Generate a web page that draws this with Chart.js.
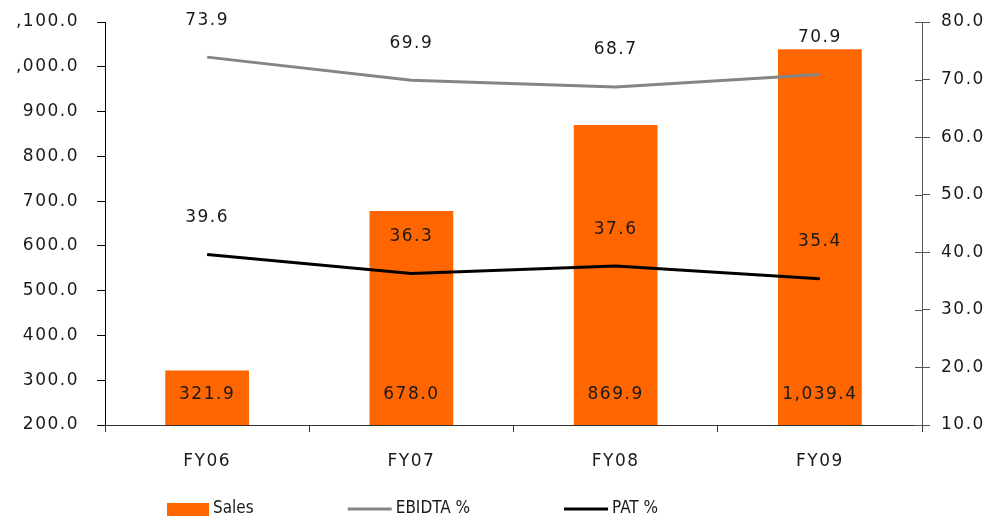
<!DOCTYPE html>
<html>
<head>
<meta charset="utf-8">
<script src="https://cdn.jsdelivr.net/npm/chart.js@4/dist/chart.umd.min.js"></script>
<style>
    body { margin: 0; background: #fff; }
    #wrap { width: 998px; height: 520px; position: relative; }
</style>
</head>
<body>
<div id="wrap"><canvas id="salesChart"></canvas></div>
<script>
const categories = ['FY06', 'FY07', 'FY08', 'FY09'];
const salesValues = [321.9, 678.0, 869.9, 1039.4];
const ebidtaValues = [73.9, 69.9, 68.7, 70.9];
const patValues = [39.6, 36.3, 37.6, 35.4];
const salesTicks = [200, 300, 400, 500, 600, 700, 800, 900, 1000, 1100];
const pctTicks = [10, 20, 30, 40, 50, 60, 70, 80];

const ORANGE = '#ff6600';
const GREY = '#858585';
const TEXT = '#1a1a1a';
const FONT = 'DejaVu Sans';

const fmt = v => v.toLocaleString('en-US', { minimumFractionDigits: 1, maximumFractionDigits: 1 });

// wide-spaced look of the original labels; the source picture is cut off at the left edge
const framePlugin = {
    id: 'frame',
    beforeDraw(chart) {
        const c = chart.ctx;
        c.letterSpacing = '1.5px';
        c.save();
        c.beginPath();
        c.rect(14, 0, chart.width, chart.height);
        c.clip();
    },
    afterDraw(chart) { chart.ctx.restore(); }
};

// value labels: sales near the bar base, percentages above the line points
const valueLabels = {
    id: 'valueLabels',
    afterDatasetsDraw(chart) {
        const ctx = chart.ctx;
        ctx.save();
        ctx.font = '17px "' + FONT + '"';
        ctx.fillStyle = TEXT;
        ctx.textAlign = 'center';
        ctx.textBaseline = 'middle';
        chart.data.datasets.forEach((ds, i) => {
            const meta = chart.getDatasetMeta(i);
            meta.data.forEach((el, j) => {
                const y = ds.type === 'bar' ? chart.chartArea.bottom - 30 : el.y - 37;
                ctx.fillText(fmt(ds.data[j]), el.x, y);
            });
        });
        ctx.restore();
    }
};

// right axis ticks cross the axis line
const crossTicks = {
    id: 'crossTicks',
    afterDraw(chart) {
        const s = chart.scales.y1;
        const ctx = chart.ctx;
        ctx.save();
        ctx.strokeStyle = '#555';
        ctx.lineWidth = 1;
        s.ticks.forEach(t => {
            const y = Math.round(s.getPixelForValue(t.value)) + 0.5;
            ctx.beginPath();
            ctx.moveTo(s.left - 7, y);
            ctx.lineTo(s.left, y);
            ctx.stroke();
        });
        ctx.restore();
    }
};

// legend along the bottom, spaced like the original
const bottomLegend = {
    id: 'bottomLegend',
    afterDraw(chart) {
        const ctx = chart.ctx;
        ctx.save();
        ctx.letterSpacing = '0px';
        ctx.font = '17px "DejaVu Sans Condensed", "' + FONT + '"';
        ctx.fillStyle = TEXT;
        ctx.textBaseline = 'middle';
        const y = 509;
        let x = 167;
        chart.data.datasets.forEach(ds => {
            if (ds.type === 'bar') {
                ctx.fillStyle = ds.backgroundColor;
                ctx.fillRect(x, y - 6, 42, 13);
                x += 42;
            } else {
                ctx.strokeStyle = ds.borderColor;
                ctx.lineWidth = 3;
                ctx.beginPath();
                ctx.moveTo(x, y);
                ctx.lineTo(x + 44, y);
                ctx.stroke();
                x += 44;
            }
            x += 4;
            ctx.fillStyle = TEXT;
            ctx.fillText(ds.label, x, y);
            x += ctx.measureText(ds.label).width + 94;
        });
        ctx.restore();
    }
};

// keep the plot top where the original has it
const noLabelPad = s => { s.paddingTop = 0; s.paddingBottom = 0; };

const ctx = document.getElementById('salesChart').getContext('2d');
new Chart(ctx, {
    data: {
        labels: categories,
        datasets: [
            {
                type: 'bar',
                label: 'Sales',
                data: salesValues,
                backgroundColor: ORANGE,
                yAxisID: 'y',
                barPercentage: 0.41,
                categoryPercentage: 1,
                order: 2
            },
            {
                type: 'line',
                label: 'EBIDTA %',
                data: ebidtaValues,
                borderColor: GREY,
                borderWidth: 3,
                pointRadius: 0,
                tension: 0,
                yAxisID: 'y1',
                order: 1
            },
            {
                type: 'line',
                label: 'PAT %',
                data: patValues,
                borderColor: '#000',
                borderWidth: 3,
                pointRadius: 0,
                tension: 0,
                yAxisID: 'y1',
                order: 0
            }
        ]
    },
    options: {
        responsive: true,
        maintainAspectRatio: false,
        animation: false,
        layout: { padding: { top: 22, bottom: 50, left: 0, right: 0 } },
        plugins: {
            legend: { display: false },
            tooltip: { enabled: false }
        },
        scales: {
            x: {
                offset: true,
                grid: { drawOnChartArea: false, tickLength: 7, color: '#333' },
                border: { color: '#333' },
                ticks: { color: TEXT, font: { family: FONT, size: 17 }, padding: 19 },
                afterFit(s) { s.height = 45; }
            },
            y: {
                position: 'left',
                min: salesTicks[0],
                max: salesTicks[salesTicks.length - 1],
                afterBuildTicks(s) { s.ticks = salesTicks.map(v => ({ value: v })); },
                grid: { drawOnChartArea: false, tickLength: 8, color: '#000' },
                border: { color: '#000' },
                ticks: { color: TEXT, font: { family: FONT, size: 17 }, padding: 18, callback: v => fmt(v) },
                afterFit(s) { s.width = 105; noLabelPad(s); }
            },
            y1: {
                position: 'right',
                min: pctTicks[0],
                max: pctTicks[pctTicks.length - 1],
                afterBuildTicks(s) { s.ticks = pctTicks.map(v => ({ value: v })); },
                grid: { drawOnChartArea: false, tickLength: 8, color: '#555' },
                border: { color: '#555' },
                ticks: { color: TEXT, font: { family: FONT, size: 17 }, padding: 11, callback: v => fmt(v) },
                afterFit(s) { s.width = 76; noLabelPad(s); }
            }
        }
    },
    plugins: [framePlugin, valueLabels, crossTicks, bottomLegend]
});
</script>
</body>
</html>
